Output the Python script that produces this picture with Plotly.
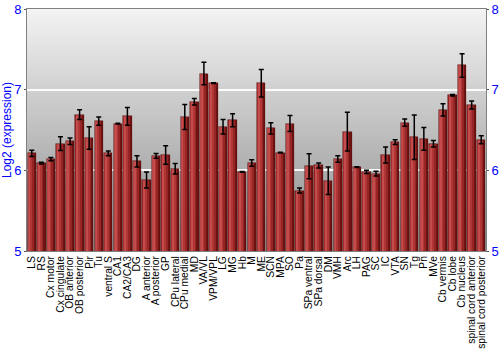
import plotly.graph_objects as go

categories = ["LS", "RS", "Cx motor", "Cx cingulate", "OB anterior", "OB posterior", "Pir", "Tu",
              "ventral S", "CA1", "CA2/CA3", "DG", "A anterior", "A posterior", "GP", "CPu lateral",
              "CPu medial", "MD", "VA/VL", "VPM/VPL", "LG", "MG", "Hb", "M", "ME", "SCN", "MPA", "SO",
              "Pa", "SPa ventral", "SPa dorsal", "DM", "VMH", "Arc", "LH", "PAG", "SC", "IC", "VTA",
              "SN", "Tg", "Pn", "MVe", "Cb vermis", "Cb lobe", "Cb nucleus", "spinal cord anterior",
              "spinal cord posterior"]
values = [6.21, 6.09, 6.14, 6.33, 6.36, 6.69, 6.40, 6.61,
          6.21, 6.58, 6.67, 6.11, 5.88, 6.18, 6.19, 6.02,
          6.66, 6.85, 7.20, 7.08, 6.54, 6.62, 5.98, 6.09, 7.08, 6.52, 6.22, 6.58,
          5.75, 6.05, 6.06, 5.87, 6.14, 6.48, 6.04, 5.98, 5.96, 6.19, 6.35,
          6.59, 6.41, 6.39, 6.33, 6.75, 6.93, 7.30, 6.81,
          6.38]
errors = [0.04, 0.01, 0.02, 0.085, 0.04, 0.06, 0.14, 0.05,
          0.03, 0.005, 0.11, 0.07, 0.10, 0.03, 0.115, 0.065,
          0.155, 0.04, 0.14, 0.005, 0.09, 0.08, 0.005, 0.04, 0.17, 0.07, 0.005, 0.10,
          0.03, 0.155, 0.03, 0.17, 0.04, 0.24, 0.005, 0.02, 0.03, 0.10, 0.03,
          0.045, 0.275, 0.14, 0.04, 0.075, 0.01, 0.145, 0.05,
          0.05]
y_ticks = [5, 6, 7, 8]

fig = go.Figure()

# bar shading layers (dark base, lighter strips toward the left)
layers = [
    (0.88, -0.44, "#701313"),
    (0.66, -0.44, "#962626"),
    (0.46, -0.42, "#b03636"),
    (0.24, -0.38, "#c44c4c"),
]
for w, off, col in layers:
    fig.add_trace(go.Bar(x=categories, y=values, base=0, width=w, offset=off,
                         marker=dict(color=col, line=dict(width=0)),
                         hoverinfo="skip", showlegend=False))

# outline + error bars
fig.add_trace(go.Bar(x=categories, y=values, width=0.88, offset=-0.44,
                     marker=dict(color="rgba(0,0,0,0)", line=dict(color="#5a0e0e", width=0.6)),
                     error_y=dict(type="data", array=errors, visible=True,
                                  color="black", thickness=1.5, width=2.5),
                     showlegend=False))

# invisible trace to activate right axis
fig.add_trace(go.Scatter(x=[categories[0]], y=[values[0]], yaxis="y2", mode="markers",
                         marker=dict(opacity=0), hoverinfo="skip", showlegend=False))

# vertical gradient background
n = 80
top = (243, 243, 243)
bot = (140, 140, 140)
shapes = []
for i in range(n):
    t = i / (n - 1)
    c = tuple(int(round(top[k] + (bot[k] - top[k]) * t)) for k in range(3))
    shapes.append(dict(type="rect", xref="paper", yref="paper", x0=0, x1=1,
                       y0=1 - (i + 1) / n, y1=1 - i / n + 0.002,
                       fillcolor="rgb(%d,%d,%d)" % c, line=dict(width=0), layer="below"))

fig.update_layout(
    width=500, height=350,
    margin=dict(l=27, r=14, t=9, b=99, autoexpand=False),
    paper_bgcolor="white", plot_bgcolor="#bbbbbb",
    barmode="overlay", bargap=0,
    shapes=shapes,
    font=dict(family="Liberation Sans, Arial, sans-serif", color="black"),
    xaxis=dict(type="category", tickangle=-90, tickfont=dict(size=10.3, color="black"),
               tickmode="array", tickvals=categories, ticktext=categories,
               showgrid=False, showline=True, mirror=True, linecolor="#808080", linewidth=1,
               ticks="", ticklen=0, range=[-0.5, len(categories) - 0.5], automargin=False),
    yaxis=dict(range=[5, 8], tickvals=y_ticks, tickfont=dict(size=13, color="#0000ff"),
               title=dict(text="Log2 (expression)", font=dict(size=12, color="#0000ff"), standoff=2),
               showgrid=True, gridcolor="rgba(255,255,255,0.9)", gridwidth=1.5,
               showline=True, linecolor="#808080", ticks="outside", ticklen=2, tickcolor="#555",
               zeroline=False, automargin=False),
    yaxis2=dict(range=[5, 8], tickvals=y_ticks, overlaying="y", side="right",
                tickfont=dict(size=13, color="#0000ff"), showgrid=False,
                showline=True, linecolor="#808080", ticks="outside", ticklen=2, tickcolor="#555",
                zeroline=False, automargin=False),
)

fig.write_html("out.html")
